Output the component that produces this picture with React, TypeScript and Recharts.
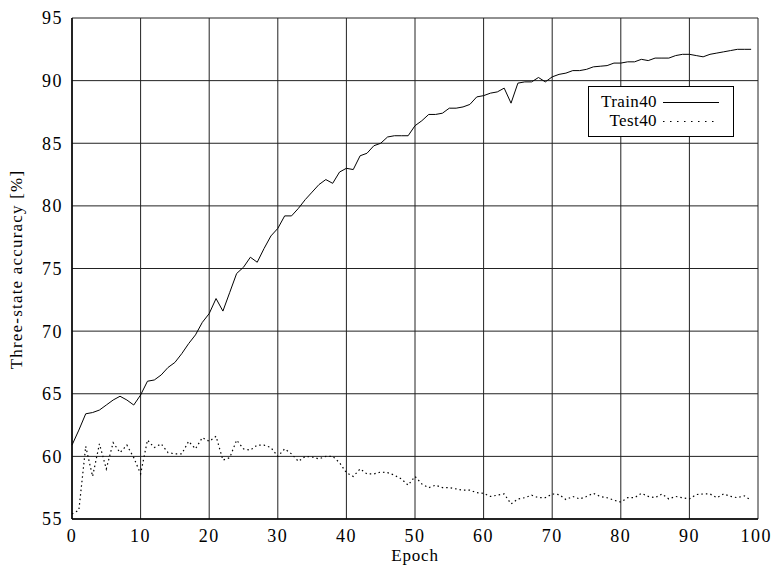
import { CartesianGrid, Legend, Line, LineChart, XAxis, YAxis } from "recharts";

const epochs = Array.from({ length: 100 }, (_, i) => i);

const train40 = [
  60.9, 62.1, 63.4, 63.5, 63.7, 64.1, 64.5, 64.8, 64.5, 64.1,
  64.9, 66.0, 66.1, 66.5, 67.1, 67.5, 68.2, 69.0, 69.7, 70.7,
  71.4, 72.6, 71.6, 73.1, 74.6, 75.1, 75.9, 75.5, 76.6, 77.6,
  78.2, 79.2, 79.2, 79.8, 80.5, 81.1, 81.7, 82.1, 81.8, 82.7,
  83.0, 82.9, 84.0, 84.2, 84.8, 85.0, 85.5, 85.6, 85.6, 85.6,
  86.4, 86.8, 87.3, 87.3, 87.4, 87.8, 87.8, 87.9, 88.1, 88.7,
  88.8, 89.0, 89.1, 89.4, 88.2, 89.8, 89.9, 89.9, 90.25, 89.9,
  90.3, 90.5, 90.6, 90.8, 90.8, 90.9, 91.1, 91.15, 91.2, 91.4,
  91.4, 91.5, 91.5, 91.7, 91.6, 91.8, 91.8, 91.8, 92.0, 92.1,
  92.1, 92.0, 91.9, 92.1, 92.2, 92.3, 92.4, 92.5, 92.5, 92.5,
];

const test40 = [
  55.4, 55.7, 60.8, 58.4, 61.0, 59.0, 61.1, 60.3, 60.9, 59.9,
  58.6, 61.3, 60.7, 61.0, 60.3, 60.2, 60.2, 61.2, 60.6, 61.5,
  61.2, 61.6, 59.7, 59.9, 61.3, 60.6, 60.5, 60.9, 60.9, 60.7,
  60.0, 60.6, 60.2, 59.6, 60.0, 59.95, 59.8, 60.0, 60.0, 59.5,
  58.7, 58.4, 59.0, 58.6, 58.6, 58.75, 58.7, 58.5, 58.2, 57.7,
  58.4, 57.8, 57.5, 57.7, 57.5, 57.5, 57.4, 57.3, 57.3, 57.1,
  57.05, 56.8, 56.9, 57.0, 56.2, 56.6, 56.7, 56.9, 56.7, 56.7,
  57.0, 56.95, 56.55, 56.8, 56.6, 56.8, 57.05, 56.8, 56.7, 56.5,
  56.35, 56.7, 56.7, 57.05, 56.8, 56.7, 57.0, 56.6, 56.8, 56.7,
  56.6, 56.95, 57.0, 57.0, 56.7, 57.0, 56.8, 56.7, 56.85, 56.5,
];

const xTicks = [0, 10, 20, 30, 40, 50, 60, 70, 80, 90, 100];
const yTicks = [55, 60, 65, 70, 75, 80, 85, 90, 95];

const data = epochs.map((epoch, i) => ({
  epoch,
  train: train40[i],
  test: test40[i],
}));

const FONT = '"Liberation Serif", "Times New Roman", serif';

// boxed legend in the upper right, like the original plot
function LegendBox() {
  return (
    <svg width={146} height={51} style={{ display: "block" }}>
      <rect x={0.5} y={0.5} width={145} height={50} fill="#fff" stroke="#000" />
      <text x={69} y={21} textAnchor="end" fontFamily={FONT} fontSize={17} letterSpacing={0.4} fill="#000">
        Train40
      </text>
      <text x={69} y={40} textAnchor="end" fontFamily={FONT} fontSize={17} letterSpacing={0.4} fill="#000">
        Test40
      </text>
      <line x1={75} x2={131} y1={16.5} y2={16.5} stroke="#000" strokeWidth={1} />
      <line
        x1={75}
        x2={131}
        y1={35.5}
        y2={35.5}
        stroke="#000"
        strokeWidth={1.2}
        strokeDasharray="1.5 5.5"
      />
    </svg>
  );
}

function YTitle({ viewBox }: any) {
  const x = 22;
  const y = viewBox.y + viewBox.height / 2 + 1;
  return (
    <text
      x={x}
      y={y}
      transform={`rotate(-90, ${x}, ${y})`}
      textAnchor="middle"
      fontFamily={FONT}
      fontSize={17}
      letterSpacing={1.2}
      fill="#000"
    >
      Three-state accuracy [%]
    </text>
  );
}

export default function App() {
  return (
    <div style={{ position: "absolute", left: 0, top: 0, background: "#fff" }}>
      <LineChart
        width={772}
        height={565}
        data={data}
        margin={{ top: 18, right: 14, bottom: 0, left: 0 }}
      >
        <CartesianGrid stroke="#222" strokeWidth={1} />
        <XAxis
          dataKey="epoch"
          type="number"
          domain={[0, 100]}
          ticks={xTicks}
          height={46}
          tickSize={0}
          tickMargin={10}
          axisLine={{ stroke: "#000", strokeWidth: 1.5 }}
          tick={{ fill: "#000", fontSize: 18, fontFamily: FONT, letterSpacing: 1.5 }}
          label={{
            value: "Epoch",
            position: "insideBottom",
            offset: 4,
            fill: "#000",
            fontSize: 17,
            fontFamily: FONT,
            letterSpacing: 0.8,
          }}
        />
        <YAxis
          type="number"
          domain={[55, 95]}
          ticks={yTicks}
          width={72}
          tickSize={0}
          tickMargin={9}
          axisLine={{ stroke: "#000", strokeWidth: 1.5 }}
          tick={{ fill: "#000", fontSize: 18, fontFamily: FONT, letterSpacing: 1.5 }}
          label={{ content: (p: any) => <YTitle {...p} /> }}
        />
        <Legend
          layout="horizontal"
          verticalAlign="middle"
          align="center"
          wrapperStyle={{ position: "absolute", left: 588, top: 86, width: 146, height: 51 }}
          content={() => <LegendBox />}
        />
        <Line
          dataKey="train"
          name="Train40"
          stroke="#000"
          strokeWidth={1}
          dot={false}
          isAnimationActive={false}
        />
        <Line
          dataKey="test"
          name="Test40"
          stroke="#000"
          strokeWidth={1.2}
          strokeDasharray="1.5 3"
          dot={false}
          isAnimationActive={false}
        />
      </LineChart>
    </div>
  );
}
